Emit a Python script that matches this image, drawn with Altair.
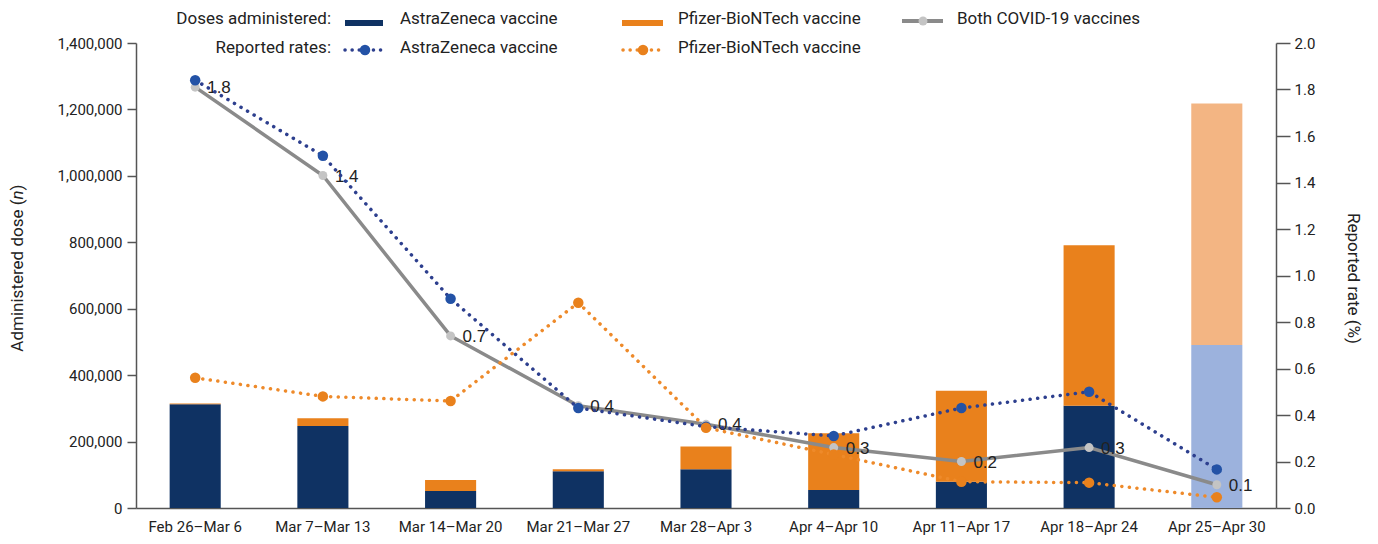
import altair as alt
import pandas as pd

# ---------------- data ----------------
weeks = ["Feb 26–Mar 6", "Mar 7–Mar 13", "Mar 14–Mar 20", "Mar 21–Mar 27",
         "Mar 28–Apr 3", "Apr 4–Apr 10", "Apr 11–Apr 17", "Apr 18–Apr 24",
         "Apr 25–Apr 30"]
az_doses = [312000, 247000, 51000, 111000, 117000, 54000, 79000, 308000, 491000]
pf_doses = [3000, 23000, 33000, 6000, 68000, 171000, 274000, 483000, 727000]
provisional = [False, False, False, False, False, False, False, False, True]

rate_both = [1.81, 1.43, 0.74, 0.44, 0.36, 0.26, 0.20, 0.26, 0.10]
rate_az = [1.84, 1.515, 0.90, 0.43, 0.35, 0.31, 0.43, 0.50, 0.166]
rate_pf = [0.56, 0.48, 0.46, 0.883, 0.345, 0.23, 0.113, 0.109, 0.046]

left_ticks = [0, 200000, 400000, 600000, 800000, 1000000, 1200000, 1400000]
right_ticks = [0.0, 0.2, 0.4, 0.6, 0.8, 1.0, 1.2, 1.4, 1.6, 1.8, 2.0]

# ---------------- styles ----------------
NAVY = "#0F3263"
ORANGE = "#E9811C"
NAVY_L = "#9CB2DD"
ORANGE_L = "#F3B583"
BLUE_DOT = "#2D3F8E"
BLUE_PT = "#2352A6"
ORANGE_DOT = "#EE8A2A"
GRAY_LINE = "#8A8A8A"
GRAY_PT = "#C4C4C4"
TXT = "#222222"
AX = "#555555"
FONT = "Roboto"

rows = []
for i, w in enumerate(weeks):
    p = provisional[i]
    rows.append({"week": w, "series": "AZ_p" if p else "AZ", "ord": 0, "doses": az_doses[i]})
    rows.append({"week": w, "series": "PF_p" if p else "PF", "ord": 1, "doses": pf_doses[i]})
bars_df = pd.DataFrame(rows)

rrows = []
for i, w in enumerate(weeks):
    rrows.append({"week": w, "series": "both", "rate": rate_both[i]})
    rrows.append({"week": w, "series": "az", "rate": rate_az[i]})
    rrows.append({"week": w, "series": "pf", "rate": rate_pf[i]})
rates_df = pd.DataFrame(rrows)

dummy = pd.DataFrame({"k": [0]})

x_enc = alt.X("week:N", sort=weeks,
              scale=alt.Scale(paddingInner=0.6, paddingOuter=0.2635),
              axis=alt.Axis(title=None, labelAngle=0, ticks=False, labelPadding=11,
                            labelFontSize=15, labelColor=TXT, labelFont=FONT,
                            domainColor=AX, domainWidth=1.5))

bars = alt.Chart(bars_df).mark_bar().encode(
    x=x_enc,
    y=alt.Y("doses:Q", stack="zero",
            scale=alt.Scale(domain=[0, 1400000], nice=False),
            axis=alt.Axis(title=None, values=left_ticks, format=",.0f", orient="left",
                          tickSize=9, tickColor=AX, domainColor=AX, domainWidth=1.5,
                          tickWidth=1.5, labelPadding=5, labelFontSize=15,
                          labelColor=TXT, labelFont=FONT, grid=False)),
    color=alt.Color("series:N",
                    scale=alt.Scale(domain=["AZ", "PF", "AZ_p", "PF_p"],
                                    range=[NAVY, ORANGE, NAVY_L, ORANGE_L]),
                    legend=None),
    order=alt.Order("ord:Q", sort="ascending"),
)

base = alt.Chart(rates_df).encode(
    x=alt.X("week:N", sort=weeks),
    y=alt.Y("rate:Q", scale=alt.Scale(domain=[0, 2], nice=False),
            axis=alt.Axis(orient="right", values=right_ticks, format=".1f",
                          tickSize=14, tickColor=AX, tickWidth=1.5,
                          domainColor=AX, domainWidth=1.5, labelPadding=4,
                          labelFontSize=15, labelColor=TXT, labelFont=FONT, grid=False,
                          title="Reported rate (%)", titleAngle=90, titleX=76, titleY=235,
                          titleAlign="center", titleBaseline="middle",
                          titleFontSize=17, titleFont=FONT, titleFontWeight="normal",
                          titleColor=TXT)),
)

both_line = base.transform_filter(alt.datum.series == "both").mark_line(
    color=GRAY_LINE, strokeWidth=3.5)
both_pts = base.transform_filter(alt.datum.series == "both").mark_circle(
    color=GRAY_PT, size=80, opacity=1)
both_lbl = base.transform_filter(alt.datum.series == "both").mark_text(
    align="left", baseline="middle", dx=12, dy=1, fontSize=17,
    font="Liberation Sans", color=TXT).encode(text=alt.Text("rate:Q", format=".1f"))

az_line = base.transform_filter(alt.datum.series == "az").mark_line(
    color=BLUE_DOT, strokeWidth=3.5, strokeDash=[0.1, 7.5], strokeCap="round")
az_pts = base.transform_filter(alt.datum.series == "az").mark_circle(
    color=BLUE_PT, size=110, opacity=1)
pf_line = base.transform_filter(alt.datum.series == "pf").mark_line(
    color=ORANGE_DOT, strokeWidth=3.5, strokeDash=[0.1, 7.5], strokeCap="round")
pf_pts = base.transform_filter(alt.datum.series == "pf").mark_circle(
    color=ORANGE, size=110, opacity=1)

# ---------------- custom legend & left title ----------------
def txt(s, x, y, align="left", size=17, angle=0, style="normal", font=FONT):
    return alt.Chart(dummy).mark_text(align=align, baseline="middle", fontSize=size,
                                      font=font, color=TXT, angle=angle,
                                      fontStyle=style).encode(
        x=alt.value(x), y=alt.value(y), text=alt.value(s))

R1, R2 = -24, 5
legend = [
    txt("Doses administered:", 195, R1, align="right"),
    alt.Chart(dummy).mark_rect(color=NAVY).encode(
        x=alt.value(209), x2=alt.value(247), y=alt.value(R1 + 1), y2=alt.value(R1 + 7)),
    txt("AstraZeneca vaccine", 264, R1),
    alt.Chart(dummy).mark_rect(color=ORANGE).encode(
        x=alt.value(486), x2=alt.value(527), y=alt.value(R1 + 1), y2=alt.value(R1 + 7)),
    txt("Pfizer-BioNTech vaccine", 542, R1),
    alt.Chart(dummy).mark_rule(color=GRAY_LINE, strokeWidth=4).encode(
        x=alt.value(766), x2=alt.value(807), y=alt.value(R1 + 2)),
    alt.Chart(dummy).mark_circle(color=GRAY_PT, size=80, opacity=1).encode(
        x=alt.value(787), y=alt.value(R1 + 2)),
    txt("Both COVID-19 vaccines", 821, R1),
    txt("Reported rates:", 195, R2, align="right"),
    alt.Chart(dummy).mark_rule(color=BLUE_DOT, strokeWidth=3.5, strokeDash=[0.1, 7],
                               strokeCap="round").encode(
        x=alt.value(209), x2=alt.value(246), y=alt.value(R2 + 2)),
    alt.Chart(dummy).mark_circle(color=BLUE_PT, size=110, opacity=1).encode(
        x=alt.value(229), y=alt.value(R2 + 2)),
    txt("AstraZeneca vaccine", 264, R2),
    alt.Chart(dummy).mark_rule(color=ORANGE_DOT, strokeWidth=3.5, strokeDash=[0.1, 7],
                               strokeCap="round").encode(
        x=alt.value(487), x2=alt.value(525), y=alt.value(R2 + 2)),
    alt.Chart(dummy).mark_circle(color=ORANGE, size=110, opacity=1).encode(
        x=alt.value(507), y=alt.value(R2 + 2)),
    txt("Pfizer-BioNTech vaccine", 542, R2),
    # left axis title with italic n
    txt("Administered dose (", -118, 156.5, align="right", angle=270),
    txt("n", -118, 152, align="center", angle=270, style="italic"),
    txt(")", -118, 147.5, align="left", angle=270),
]

rates_layer = alt.layer(both_line, both_pts, both_lbl, az_line, pf_line,
                        az_pts, pf_pts, *legend)

chart = alt.layer(bars, rates_layer).resolve_scale(y="independent").properties(
    width=1140, height=465,
    padding={"left": 128, "top": 35, "right": 94, "bottom": 28},
    autosize=alt.AutoSizeParams(type="none"),
).configure_view(stroke=None).configure_axis(grid=False)

chart.save("out.html", embed_options={"renderer": "svg", "actions": False})
